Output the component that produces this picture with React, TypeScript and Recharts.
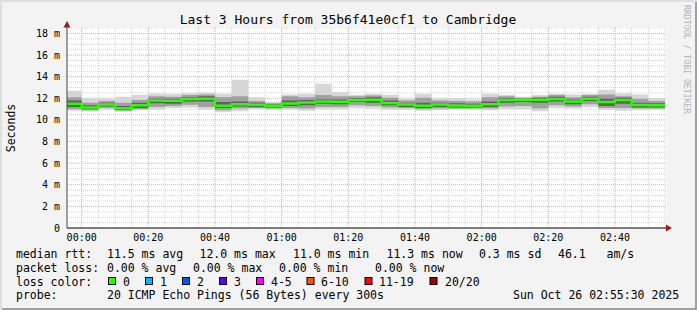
import React from 'react';
import { ComposedChart, Area, Line, XAxis, YAxis, CartesianGrid } from 'recharts';

// minutes relative to 00:00 (start of each 5-minute step)
const times = [-4.4, 0, 5, 10, 15, 20, 25, 30, 35, 40, 45, 50, 55, 60, 65, 70, 75, 80, 85, 90, 95, 100, 105, 110, 115, 120, 125, 130, 135, 140, 145, 150, 155, 160, 165, 170];
const endTime = 175;

// median RTT (ms)
const medianRtt = [11.5, 11.15, 11.43, 11.07, 11.37, 11.8, 11.77, 11.94, 11.96, 11.32, 11.45, 11.4, 11.32, 11.52, 11.62, 11.7, 11.68, 11.85, 11.87, 11.57, 11.42, 11.32, 11.42, 11.33, 11.32, 11.44, 11.85, 11.87, 11.87, 11.93, 11.71, 11.97, 11.65, 11.85, 11.38, 11.35];
// smoke envelope (ms)
const smokeMax = [12.7, 12.0, 11.95, 12.15, 12.33, 12.45, 12.4, 12.5, 12.55, 12.42, 13.72, 12.1, 11.65, 12.35, 12.42, 13.35, 12.58, 12.33, 12.42, 12.33, 12.0, 12.42, 12.0, 12.0, 11.9, 12.42, 12.33, 12.15, 12.3, 12.42, 12.35, 12.42, 12.8, 12.48, 12.35, 12.0];
const smokeHi2 = [12.1, 11.6, 11.75, 11.6, 11.85, 12.2, 12.15, 12.3, 12.35, 12.1, 12.2, 11.75, 11.55, 12.2, 12.1, 12.3, 12.2, 12.2, 12.25, 12.05, 11.8, 12.05, 11.8, 11.75, 11.7, 12.1, 12.2, 12.05, 12.15, 12.3, 12.1, 12.3, 12.35, 12.2, 11.95, 11.75];
const smokeHi3 = [11.8, 11.35, 11.6, 11.3, 11.6, 11.95, 11.95, 12.1, 12.2, 11.65, 11.7, 11.6, 11.45, 11.8, 11.85, 11.9, 11.9, 12.0, 12.1, 11.8, 11.6, 11.6, 11.6, 11.55, 11.5, 11.7, 12.0, 11.95, 12.05, 12.15, 11.9, 12.15, 11.95, 12.05, 11.6, 11.55];
const smokeLo3 = [11.2, 11.0, 11.25, 10.95, 11.1, 11.55, 11.5, 11.7, 11.7, 11.1, 11.25, 11.2, 11.15, 11.3, 11.35, 11.5, 11.45, 11.65, 11.6, 11.35, 11.2, 11.1, 11.2, 11.15, 11.15, 11.2, 11.6, 11.65, 11.6, 11.7, 11.45, 11.75, 11.3, 11.5, 11.15, 11.15];
const smokeLo2 = [11.0, 10.9, 11.1, 10.85, 11.0, 11.2, 11.3, 11.4, 11.2, 10.9, 11.05, 11.1, 11.05, 11.1, 11.05, 11.2, 11.2, 11.35, 11.3, 11.15, 11.1, 11.0, 11.05, 11.05, 11.05, 11.05, 11.25, 11.3, 11.05, 11.35, 11.25, 11.45, 11.1, 11.1, 11.05, 11.05];
const smokeMin = [10.85, 10.8, 10.95, 10.75, 10.9, 10.95, 11.1, 11.15, 10.95, 10.72, 10.8, 11.0, 10.95, 10.95, 10.85, 11.0, 11.0, 11.1, 11.05, 10.95, 10.95, 10.85, 10.9, 10.95, 10.95, 10.9, 11.0, 11.0, 10.8, 11.1, 11.05, 11.2, 10.95, 10.85, 10.9, 10.95];

const xDomain: [number, number] = [-4.4, 175.6];
const yDomain: [number, number] = [0, 18.6];
const xTickValues = [0, 20, 40, 60, 80, 100, 120, 140, 160];
const xTickLabels = ['00:00', '00:20', '00:40', '01:00', '01:20', '01:40', '02:00', '02:20', '02:40'];
const yTickValues = [0, 2, 4, 6, 8, 10, 12, 14, 16, 18];
const yMinorGrid = [0.5, 1, 1.5, 2.5, 3, 3.5, 4.5, 5, 5.5, 6.5, 7, 7.5, 8.5, 9, 9.5, 10.5, 11, 11.5, 12.5, 13, 13.5, 14.5, 15, 15.5, 16.5, 17, 17.5, 18.5];
const yMajorGrid = [2, 4, 6, 8, 10, 12, 14, 16, 18];
const xMinorGrid = [5, 10, 15, 25, 30, 35, 45, 50, 55, 65, 70, 75, 85, 90, 95, 105, 110, 115, 125, 130, 135, 145, 150, 155, 165, 170, 175];
const xMajorGrid = [0, 20, 40, 60, 80, 100, 120, 140, 160];

const lossLabels = ['0', '1', '2', '3', '4-5', '6-10', '11-19', '20/20'];
const lossColors = ['#26ff00', '#00b8ff', '#0059ff', '#5e00ff', '#ff00ff', '#ff5500', '#ff0000', '#a10000'];
const lossBoxX = [108.5, 145.5, 182.5, 219.5, 256.5, 307, 365, 430];
const lossLabelX = [123, 160, 197, 234, 271, 321, 379, 445];

const rows = times.map((t, i) => ({
  t,
  med: medianRtt[i],
  light: [smokeMin[i], smokeMax[i]],
  mid: [smokeLo2[i], smokeHi2[i]],
  dark: [smokeLo3[i], smokeHi3[i]],
}));
const last = rows[rows.length - 1];
const data = [...rows, { ...last, t: endTime }];

const FONT = '"DejaVu Sans Mono", monospace';

function applyScale(scale: any, v: number): number | null {
  if (typeof scale === 'function') return scale(v);
  if (scale && typeof scale.map === 'function') return scale.map(v);
  return null;
}

const yGen = (vals: number[]) => (p: any) =>
  vals.map((v) => {
    const r = applyScale(p?.yAxis?.scale, v);
    if (r != null && !Number.isNaN(r)) return r;
    const o = p.offset;
    return o.top + o.height * (1 - (v - yDomain[0]) / (yDomain[1] - yDomain[0]));
  });
const xGen = (vals: number[]) => (p: any) =>
  vals.map((v) => {
    const r = applyScale(p?.xAxis?.scale, v);
    if (r != null && !Number.isNaN(r)) return r;
    const o = p.offset;
    return o.left + (o.width * (v - xDomain[0])) / (xDomain[1] - xDomain[0]);
  });

export default function App() {
  return (
    <div
      style={{
        position: 'absolute',
        left: 0,
        top: 0,
        width: 697,
        height: 310,
        background: '#f3f3f3',
        boxShadow: 'inset 2px 2px 0 #dedede, inset -2px -2px 0 #a0a0a0',
        fontFamily: FONT,
      }}
    >
      <ComposedChart
        width={697}
        height={310}
        data={data}
        margin={{ top: 27, right: 30, bottom: 62, left: 17 }}
        style={{ position: 'absolute', left: 0, top: 0 }}
      >
        <CartesianGrid fill="#ffffff" horizontal={false} vertical={false} />
        <CartesianGrid
          stroke="#d2d2d2"
          strokeDasharray="1 1"
          horizontalCoordinatesGenerator={yGen(yMinorGrid)}
          verticalCoordinatesGenerator={xGen(xMinorGrid)}
        />
        <CartesianGrid
          stroke="#eba0a0"
          strokeDasharray="1 1"
          horizontalCoordinatesGenerator={yGen(yMajorGrid)}
          verticalCoordinatesGenerator={xGen(xMajorGrid)}
        />
        <XAxis
          dataKey="t"
          type="number"
          domain={xDomain}
          ticks={xTickValues}
          tickFormatter={(v: number) => xTickLabels[xTickValues.indexOf(v)] ?? ''}
          axisLine={{ stroke: '#000000' }}
          tickLine={false}
          tickSize={0}
          tickMargin={6}
          height={20}
          allowDataOverflow
          tick={{ fill: '#000', fontSize: 10, fontFamily: FONT }}
        />
        <YAxis
          type="number"
          domain={yDomain}
          ticks={yTickValues}
          tickFormatter={(v: number) => (v === 0 ? '0' : `${v} m`)}
          axisLine={{ stroke: '#444444' }}
          tickLine={false}
          tickSize={0}
          tickMargin={7}
          width={50}
          allowDataOverflow
          tick={{ fill: '#000', fontSize: 10, fontFamily: FONT }}
        />
        <Area dataKey="light" type="stepAfter" fill="#d6d6d6" fillOpacity={1} stroke="none" isAnimationActive={false} />
        <Area dataKey="mid" type="stepAfter" fill="#a0a0a0" fillOpacity={1} stroke="none" isAnimationActive={false} />
        <Area dataKey="dark" type="stepAfter" fill="#606060" fillOpacity={1} stroke="none" isAnimationActive={false} />
        <Line dataKey="med" type="stepAfter" stroke="#26ff00" strokeWidth={2.5} dot={false} activeDot={false} isAnimationActive={false} />
      </ComposedChart>
      <svg width={697} height={310} style={{ position: 'absolute', left: 0, top: 0, pointerEvents: 'none' }}>
        <polygon points="67,21 63.5,27.5 70.5,27.5" fill="#9b1c1c" />
        <polygon points="672,228 666,224.5 666,231.5" fill="#9b1c1c" />
        <text x={348} y={24} textAnchor="middle" fontSize={13} fontFamily={FONT} fill="#000">
          Last 3 Hours from 35b6f41e0cf1 to Cambridge
        </text>
        <text transform="translate(15,128) rotate(-90)" textAnchor="middle" fontSize={11.5} fontFamily={FONT} fill="#000">
          Seconds
        </text>
        <text transform="translate(683.5,5) rotate(90)" textAnchor="start" fontSize={8.2} fontFamily={FONT} fill="#b4b4b4">
          RRDTOOL / TOBI OETIKER
        </text>
        <g fontSize={11.5} fontFamily={FONT} fill="#000">
          <text x={16} y={258.2}>median rtt:</text>
          <text x={107} y={258.2}>11.5 ms avg</text>
          <text x={199.5} y={258.2}>12.0 ms max</text>
          <text x={293} y={258.2}>11.0 ms min</text>
          <text x={386.5} y={258.2}>11.3 ms now</text>
          <text x={479} y={258.2}>0.3 ms sd</text>
          <text x={558} y={258.2}>46.1</text>
          <text x={606.5} y={258.2}>am/s</text>

          <text x={16} y={271.9}>packet loss:</text>
          <text x={107} y={271.9}>0.00 % avg</text>
          <text x={193} y={271.9}>0.00 % max</text>
          <text x={279} y={271.9}>0.00 % min</text>
          <text x={375} y={271.9}>0.00 % now</text>

          <text x={16} y={285.6}>loss color:</text>
          {lossLabels.map((l, i) => (
            <g key={l}>
              <rect x={lossBoxX[i]} y={277.5} width={7} height={7} fill={lossColors[i]} stroke="#000" strokeWidth={1} />
              <text x={lossLabelX[i]} y={285.6}>{l}</text>
            </g>
          ))}

          <text x={16} y={299.3}>probe:</text>
          <text x={107} y={299.3}>20 ICMP Echo Pings (56 Bytes) every 300s</text>
          <text x={513} y={299.3}>Sun Oct 26 02:55:30 2025</text>
        </g>
      </svg>
    </div>
  );
}
